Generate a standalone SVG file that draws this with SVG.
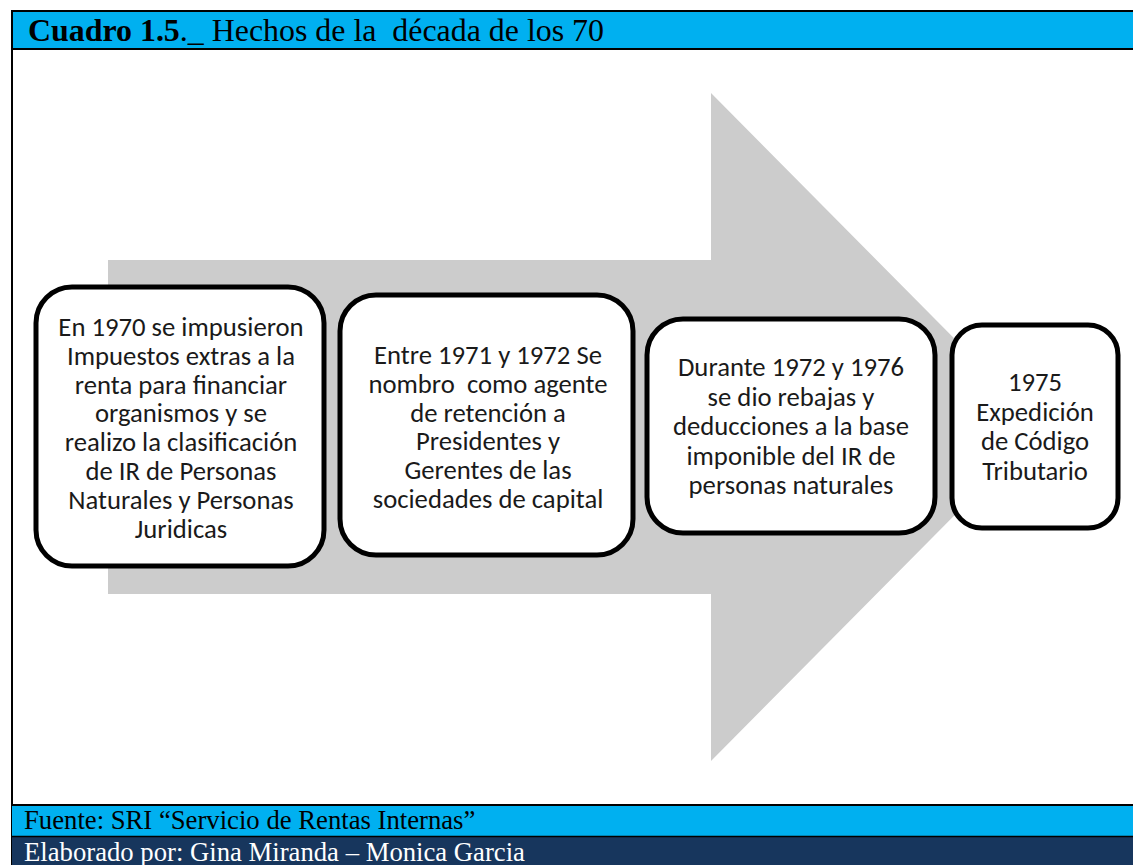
<svg xmlns="http://www.w3.org/2000/svg" width="1133" height="865" viewBox="0 0 1133 865">
<style>
.box{fill:#fff;stroke:#000;stroke-width:5}
.t{font-family:Carlito,"Liberation Sans",Arial,sans-serif;font-size:26.7px;fill:#1a1a1a;text-anchor:middle}
.ser{font-family:"Liberation Serif","Times New Roman",serif;fill:#000;white-space:pre}
</style>
<rect width="1133" height="865" fill="#fff"/>
<g id="header">
<rect x="12" y="11" width="1130" height="38" fill="#00B0F0" stroke="#000" stroke-width="2"/>
<text class="ser" x="28" y="41" font-size="31.9" xml:space="preserve"><tspan font-weight="bold">Cuadro 1.5</tspan>._ Hechos de la  década de los 70</text>
</g>
<line x1="12" y1="49" x2="12" y2="865" stroke="#000" stroke-width="2"/>
<g id="arrow">
<polygon points="108,260 711,260 711,93 1042,427 711,761 711,594 108,594" fill="#CCCCCC"/>
</g>
<g id="node1">
<rect class="box" x="36" y="287" width="288" height="279" rx="36"/>
<text class="t" y="336"><tspan x="181">En 1970 se impusieron</tspan><tspan x="181" dy="28.8">Impuestos extras a la</tspan><tspan x="181" dy="28.8">renta para financiar</tspan><tspan x="181" dy="28.8">organismos y se</tspan><tspan x="181" dy="28.8">realizo la clasificación</tspan><tspan x="181" dy="28.8">de IR de Personas</tspan><tspan x="181" dy="28.8">Naturales y Personas</tspan><tspan x="181" dy="28.8">Juridicas</tspan></text>
</g>
<g id="node2">
<rect class="box" x="340" y="295" width="293" height="260" rx="36"/>
<text class="t" y="364" xml:space="preserve"><tspan x="488">Entre 1971 y 1972 Se</tspan><tspan x="488" dy="28.8">nombro  como agente</tspan><tspan x="488" dy="28.8">de retención a</tspan><tspan x="488" dy="28.8">Presidentes y</tspan><tspan x="488" dy="28.8">Gerentes de las</tspan><tspan x="488" dy="28.8">sociedades de capital</tspan></text>
</g>
<g id="node3">
<rect class="box" x="647" y="319" width="288" height="214" rx="36"/>
<text class="t" y="376"><tspan x="791">Durante 1972 y 1976</tspan><tspan x="791" dy="29.5">se dio rebajas y</tspan><tspan x="791" dy="29.5">deducciones a la base</tspan><tspan x="791" dy="29.5">imponible del IR de</tspan><tspan x="791" dy="29.5">personas naturales</tspan></text>
</g>
<g id="node4">
<rect class="box" x="952" y="325" width="166" height="203" rx="30"/>
<text class="t" y="391"><tspan x="1035">1975</tspan><tspan x="1035" dy="29.5">Expedición</tspan><tspan x="1035" dy="29.5">de Código</tspan><tspan x="1035" dy="29.5">Tributario</tspan></text>
</g>
<g id="footer">
<rect x="12" y="806" width="1121" height="30" fill="#00B0F0"/>
<rect x="12" y="837" width="1121" height="28" fill="#17365D"/>
<line x1="12" y1="805" x2="1133" y2="805" stroke="#000" stroke-width="2"/>
<line x1="12" y1="836.5" x2="1133" y2="836.5" stroke="#000" stroke-width="1.5"/>
<text class="ser" x="24" y="829" font-size="26.7">Fuente: SRI “Servicio de Rentas Internas”</text>
<text class="ser" x="24" y="861" font-size="26.7" style="fill:#fff">Elaborado por: Gina Miranda – Monica Garcia</text>
</g>
</svg>
